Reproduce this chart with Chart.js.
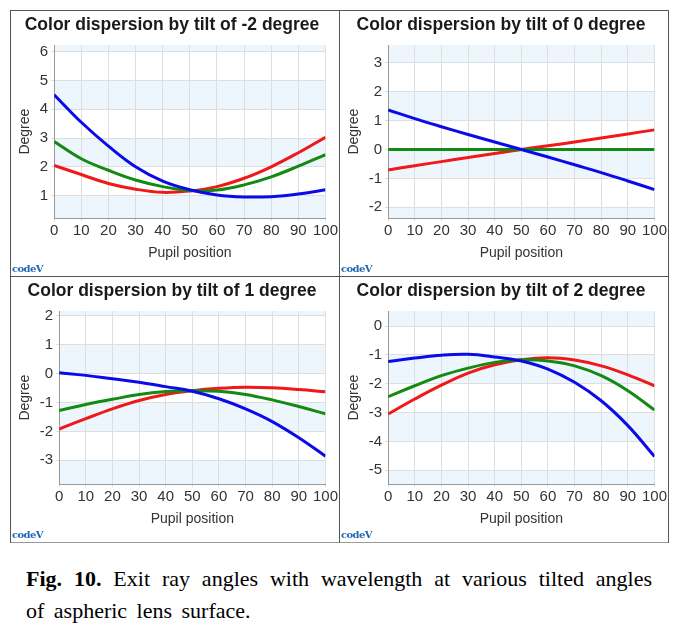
<!DOCTYPE html>
<html>
<head>
<meta charset="utf-8">
<script src="https://cdn.jsdelivr.net/npm/chart.js@4/dist/chart.umd.min.js"></script>
<style>
    body { margin: 0; background: #fff; width: 687px; height: 627px; position: relative; overflow: hidden; }
    .panel { position: absolute; width: 329px; height: 266px; }
    .panel canvas { position: absolute; left: 0; top: 0; }
    .line { position: absolute; background: #555; }
    .logo { position: absolute; left: 2px; top: 253px; font: bold 10px 'DejaVu Serif', serif; color: #2166b8; letter-spacing: -0.6px; }
    .cap { position: absolute; left: 26px; width: 626px; font: 22px 'Liberation Serif', 'Times New Roman', serif; line-height: 22px; color: #000; white-space: nowrap; }
</style>
</head>
<body>
<div class="line" style="left:10px;top:10px;width:659px;height:1px"></div>
<div class="line" style="left:10px;top:542px;width:659px;height:1px;background:#999"></div>
<div class="line" style="left:10px;top:10px;width:1px;height:533px"></div>
<div class="line" style="left:668px;top:10px;width:1px;height:533px"></div>
<div class="line" style="left:339px;top:10px;width:1px;height:533px"></div>
<div class="line" style="left:10px;top:276px;width:659px;height:1px"></div>

<div class="panel" style="left:10px;top:10px"><canvas id="chart0" width="329" height="266"></canvas><div class="logo">codeV</div></div>
<div class="panel" style="left:339px;top:10px"><canvas id="chart1" width="329" height="266"></canvas><div class="logo">codeV</div></div>
<div class="panel" style="left:10px;top:276px"><canvas id="chart2" width="329" height="266"></canvas><div class="logo">codeV</div></div>
<div class="panel" style="left:339px;top:276px"><canvas id="chart3" width="329" height="266"></canvas><div class="logo">codeV</div></div>

<div class="cap" style="top:568px;white-space:normal;text-align:justify;text-align-last:justify"><b>Fig. 10.</b> Exit ray angles with wavelength at various tilted angles</div>
<div class="cap" style="top:600px;word-spacing:4px">of aspheric lens surface.</div>

<script>
// pupil positions (x)
const pupil = [0, 10, 20, 30, 40, 50, 60, 70, 80, 90, 100];

const titles = [
    'Color dispersion by tilt of -2 degree',
    'Color dispersion by tilt of 0 degree',
    'Color dispersion by tilt of 1 degree',
    'Color dispersion by tilt of 2 degree'
];

// tilt -2
const tiltM2Blue  = [4.51, 3.55, 2.72, 2.0, 1.5, 1.2, 1.02, 0.95, 0.96, 1.05, 1.2];
const tiltM2Green = [2.88, 2.28, 1.88, 1.54, 1.31, 1.17, 1.19, 1.37, 1.65, 2.02, 2.42];
const tiltM2Red   = [2.05, 1.73, 1.42, 1.22, 1.11, 1.16, 1.31, 1.6, 2.0, 2.49, 3.03];

// tilt 0
const tilt0Blue  = [1.37, 1.07, 0.79, 0.52, 0.26, 0, -0.26, -0.53, -0.8, -1.09, -1.39];
const tilt0Green = [0, 0, 0, 0, 0, 0, 0, 0, 0, 0, 0];
const tilt0Red   = [-0.71, -0.56, -0.42, -0.28, -0.14, 0, 0.13, 0.26, 0.4, 0.54, 0.68];

// tilt 1
const tilt1Blue  = [0.03, -0.06, -0.18, -0.30, -0.45, -0.61, -0.87, -1.22, -1.66, -2.22, -2.86];
const tilt1Green = [-1.28, -1.07, -0.89, -0.72, -0.62, -0.59, -0.61, -0.72, -0.91, -1.14, -1.39];
const tilt1Red   = [-1.92, -1.56, -1.22, -0.93, -0.72, -0.59, -0.51, -0.47, -0.49, -0.55, -0.63];

// tilt 2
const tilt2Blue  = [-1.23, -1.11, -1.01, -0.98, -1.07, -1.21, -1.49, -1.95, -2.59, -3.45, -4.52];
const tilt2Green = [-2.45, -2.07, -1.72, -1.46, -1.26, -1.17, -1.21, -1.38, -1.72, -2.24, -2.91];
const tilt2Red   = [-3.05, -2.53, -2.05, -1.63, -1.34, -1.17, -1.10, -1.18, -1.38, -1.69, -2.07];

// y axis limits and tick labels per panel
const yMin = [0.21, -2.38, -3.83, -5.48];
const yMax = [6.24, 3.62, 2.17, 0.52];
const yTicks = [
    [1, 2, 3, 4, 5, 6],
    [-2, -1, 0, 1, 2, 3],
    [-3, -2, -1, 0, 1, 2],
    [-5, -4, -3, -2, -1, 0]
];
const xTicks = [0, 10, 20, 30, 40, 50, 60, 70, 80, 90, 100];

const series = [
    [tiltM2Blue, tiltM2Green, tiltM2Red],
    [tilt0Blue, tilt0Green, tilt0Red],
    [tilt1Blue, tilt1Green, tilt1Red],
    [tilt2Blue, tilt2Green, tilt2Red]
];
const colors = ['#0b0be8', '#138a13', '#f01818'];

const FONT = "'Liberation Sans', Arial, sans-serif";

// light blue bands between every other pair of y ticks
const bandPlugin = {
    id: 'bands',
    beforeDraw(chart) {
        const y = chart.scales.y;
        const area = chart.chartArea;
        const ctx = chart.ctx;
        const edges = [y.max].concat(y.ticks.map(t => t.value).sort((a, b) => b - a), [y.min]);
        ctx.save();
        ctx.fillStyle = '#eef6fd';
        for (let i = 0; i < edges.length - 1; i += 2) {
            const top = y.getPixelForValue(edges[i]);
            const bottom = y.getPixelForValue(edges[i + 1]);
            ctx.fillRect(area.left, top, area.right - area.left, bottom - top);
        }
        ctx.restore();
    }
};

function drawPanel(i) {
    const ctx = document.getElementById('chart' + i);
    new Chart(ctx, {
        type: 'line',
        data: {
            datasets: series[i].map((vals, k) => ({
                data: vals.map((v, j) => ({ x: pupil[j], y: v })),
                borderColor: colors[k],
                backgroundColor: colors[k],
                borderWidth: 3,
                pointRadius: 0,
                tension: 0.4,
                fill: false
            }))
        },
        options: {
            responsive: false,
            animation: false,
            layout: { padding: { left: 6, right: 11, top: 0, bottom: 14 } },
            plugins: {
                legend: { display: false },
                tooltip: { enabled: false },
                title: {
                    display: true,
                    text: titles[i],
                    color: '#1a1a1a',
                    font: { family: FONT, size: 17.5, weight: 'bold' },
                    padding: { top: 5, bottom: 9 }
                }
            },
            scales: {
                x: {
                    type: 'linear',
                    min: 0,
                    max: 100,
                    afterBuildTicks: scale => { scale.ticks = xTicks.map(v => ({ value: v })); },
                    grid: { color: '#dedede', tickLength: 3 },
                    border: { color: '#999' },
                    ticks: { color: '#333', padding: 1, maxRotation: 0, autoSkip: false, font: { family: FONT, size: 15 } },
                    title: {
                        display: true,
                        text: 'Pupil position',
                        color: '#333',
                        font: { family: FONT, size: 14 },
                        padding: { top: 4, bottom: 0 }
                    }
                },
                y: {
                    type: 'linear',
                    min: yMin[i],
                    max: yMax[i],
                    afterBuildTicks: scale => { scale.ticks = yTicks[i].map(v => ({ value: v })); },
                    grid: { color: '#dedede', tickLength: 3 },
                    border: { color: '#999' },
                    ticks: { color: '#333', padding: 3, font: { family: FONT, size: 15 } },
                    title: {
                        display: true,
                        text: 'Degree',
                        color: '#333',
                        font: { family: FONT, size: 14 },
                        padding: { top: 1, bottom: 3 }
                    }
                }
            }
        },
        plugins: [bandPlugin]
    });
}

for (let i = 0; i < 4; i++) {
    drawPanel(i);
}
</script>
</body>
</html>
